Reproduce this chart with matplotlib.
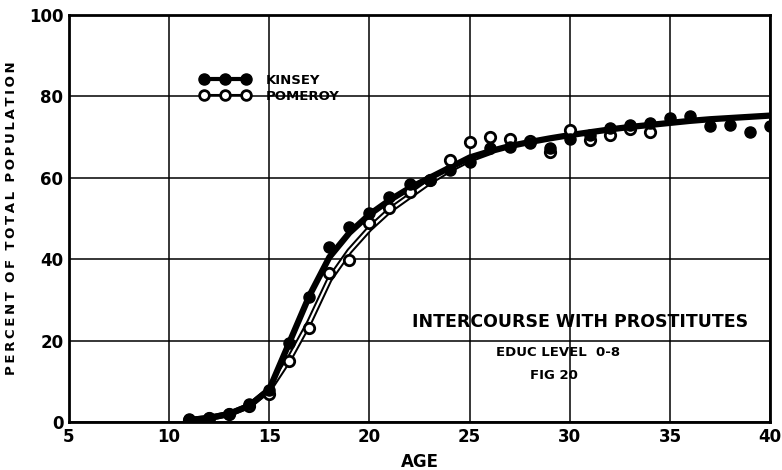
import matplotlib
matplotlib.use("Agg")
from matplotlib import pyplot as plt
from matplotlib.lines import Line2D

# points (age, percent)
kinsey_age = [11, 12, 13, 14, 15, 16, 17, 18, 19, 20, 21, 22, 23, 24, 25,
              26, 27, 28, 29, 30, 31, 32, 33, 34, 35, 36, 37, 38, 39, 40]
kinsey_pct = [0.7, 1.0, 2.0, 4.4, 7.9, 19.4, 30.7, 43.0, 48.0, 51.4, 55.3, 58.5, 59.5, 62.0, 64.0,
              67.3, 67.6, 68.5, 67.3, 69.5, 70.5, 72.2, 73.0, 73.5, 74.7, 75.2, 72.7, 73.0, 71.3, 72.7]

pomeroy_age = [11, 12, 13, 14, 15, 16, 17, 18, 19, 20, 21, 22, 23,
               24, 25, 26, 27, 28, 29, 30, 31, 32, 33, 34]
pomeroy_pct = [0.5, 1.0, 2.0, 4.0, 7.0, 15.0, 23.0, 36.6, 39.8, 49.0, 52.5, 56.6, 59.5,
               64.5, 68.8, 70.0, 69.5, 69.0, 66.3, 71.7, 69.3, 70.5, 72.0, 71.3]

# fitted curves as drawn on the chart
kcurve_age = kinsey_age
kcurve_pct = [0.5, 1.0, 2.0, 4.0, 8.0, 19.5, 31.0, 40.5, 46.5, 51.0, 54.5, 57.5, 60.0, 62.5, 65.0,
              66.5, 67.8, 68.8, 69.7, 70.5, 71.2, 71.9, 72.5, 73.0, 73.5, 74.0, 74.4, 74.7, 75.0, 75.3]

pcurve_age = [11, 12, 13, 14, 15, 16, 17, 18, 19, 20, 21, 22, 23, 24, 25, 26]
pcurve_pct = [0.5, 1.0, 2.0, 4.0, 8.0, 15.5, 24.5, 35.0, 42.0, 47.5, 52.0, 55.5, 59.0, 62.0, 64.5, 66.3]

xticks = [5, 10, 15, 20, 25, 30, 35, 40]
yticks = [0, 20, 40, 60, 80, 100]

plt.rcParams['font.family'] = ['DejaVu Sans']
plt.rcParams['font.weight'] = 'bold'

fig = plt.figure(figsize=(7.82, 4.70), dpi=100)
ax = fig.add_axes([0.088, 0.102, 0.897, 0.866])

ax.set_xlim(5, 40)
ax.set_ylim(0, 100)
ax.set_xticks(xticks)
ax.set_yticks(yticks)
ax.tick_params(length=0, labelsize=12, pad=4)
for lab in ax.get_xticklabels() + ax.get_yticklabels():
    lab.set_fontweight('bold')
ax.grid(True, color='black', lw=1.1)
ax.set_axisbelow(True)
for s in ax.spines.values():
    s.set_linewidth(2)

# pomeroy double line, then kinsey thick line on top
ax.plot(pcurve_age, pcurve_pct, color='black', lw=4.5, zorder=3)
ax.plot(pcurve_age, pcurve_pct, color='white', lw=1.6, zorder=3)
ax.plot(kcurve_age, kcurve_pct, color='black', lw=4.5, zorder=4)

ax.plot(pomeroy_age, pomeroy_pct, 'o', ms=7.5, mfc='white', mec='black', mew=2, zorder=5)
ax.plot(kinsey_age, kinsey_pct, 'o', ms=8, mfc='black', mec='black', zorder=6)

h1 = Line2D([], [], color='black', lw=3, marker='o', ms=8, mfc='black', mec='black')
h2 = Line2D([], [], color='black', lw=1.5, marker='o', ms=7, mfc='white', mec='black', mew=2)
ax.legend([h1, h2], ['KINSEY', 'POMEROY'], loc='upper left', bbox_to_anchor=(0.17, 0.885),
          numpoints=3, handlelength=3.8, frameon=False, prop={'weight': 'bold', 'size': 9.5},
          labelspacing=0.25, handletextpad=1.2)

ax.set_xlabel('AGE', fontsize=12, fontweight='bold', labelpad=5)
ylab = '  '.join('\u2009'.join(w) for w in 'PERCENT OF TOTAL POPULATION'.split())
ax.set_ylabel(ylab, fontsize=9.5, fontweight='bold', labelpad=8)

ax.text(30.5, 24.5, 'INTERCOURSE WITH PROSTITUTES', ha='center', va='center',
        fontsize=12.5, fontweight='bold', zorder=7)
ax.text(29.4, 17.2, 'EDUC LEVEL  0-8', ha='center', va='center', fontsize=9.5, fontweight='bold')
ax.text(29.2, 11.5, 'FIG 20', ha='center', va='center', fontsize=9.5, fontweight='bold')

fig.savefig('out.png', dpi=100)
